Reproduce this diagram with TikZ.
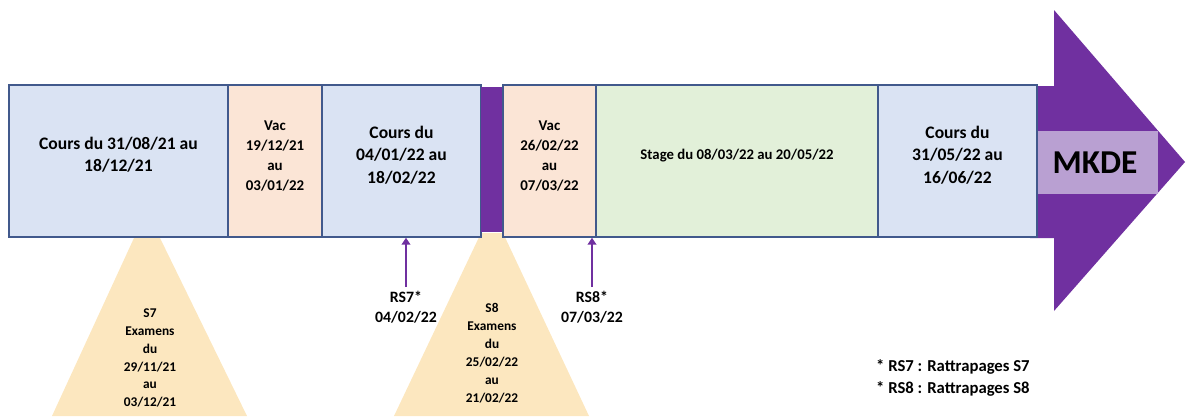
\documentclass[tikz,border=0pt]{standalone}
\usepackage{fontspec}
\setmainfont{Carlito}
\usetikzlibrary{fit,arrows.meta}
\definecolor{bordure}{HTML}{41598C}
\definecolor{bleucours}{HTML}{DAE3F3}
\definecolor{orangevac}{HTML}{FBE5D6}
\definecolor{vertstage}{HTML}{E2F0D9}
\definecolor{violetmk}{HTML}{7030A0}
\definecolor{lavande}{HTML}{B9A0D2}
\definecolor{jauneexam}{HTML}{FCE7BF}

\begin{document}
\begin{tikzpicture}[x=0.02cm,y=-0.02cm,
    boite/.style={draw=bordure,line width=0.8pt,inner sep=0pt,align=center},
    cours/.style={boite,fill=bleucours,font=\bfseries\fontsize{10}{12.8}\selectfont},
    vac/.style={boite,fill=orangevac,font=\bfseries\fontsize{8.5}{11.4}\selectfont},
    stage/.style={boite,fill=vertstage,font=\bfseries\fontsize{8.4}{11}\selectfont},
    examen/.style={fill=jauneexam},
    txtexam/.style={align=center,font=\bfseries\fontsize{7.6}{10.2}\selectfont},
    rattrap/.style={align=center,inner sep=2pt,font=\bfseries\fontsize{9}{11.4}\selectfont},
    fleche/.style={violetmk,line width=1.4pt,-{Triangle[length=4pt,width=5pt]}}]

    \useasboundingbox (0,0) rectangle (1187,416);

    % examens, sous la barre
    \fill[examen] (134,238) -- (160,238) -- (247,416) -- (52,416) -- cycle;
    \fill[examen] (481,233) -- (503,233) -- (589,416) -- (394,416) -- cycle;
    \node[txtexam] (s7) at (150,358) {S7\\Examens\\du\\29/11/21\\au\\03/12/21};
    \node[txtexam] (s8) at (492,353) {S8\\Examens\\du\\25/02/22\\au\\21/02/22};

    % grande fleche
    \fill[violetmk] (1030,86) -- (1054,86) -- (1054,10) -- (1185,162)
        -- (1054,311) -- (1054,238) -- (1030,238) -- cycle;
    \node[fill=lavande,inner sep=0pt,fit={(1037,131) (1158,194)}] (bande) {};
    \node[font=\bfseries\fontsize{19}{22}\selectfont] (mkde) at (1095,163) {MKDE};

    % periodes de l'annee
    \node[cours,fit={(9,85) (228,237)}] (c1) {Cours du 31/08/21 au\\18/12/21};
    \node[vac,fit={(228,85) (322,237)}] (v1) {Vac\\19/12/21\\au\\03/01/22};
    \node[cours,fit={(322,85) (481,237)}] (c2) {Cours du\\04/01/22 au\\18/02/22};
    \node[fill=violetmk,inner sep=0pt,fit={(481,87) (503,232)}] (sep) {};
    \node[vac,fit={(503,85) (596,237)}] (v2) {Vac\\26/02/22\\au\\07/03/22};
    \node[stage,fit={(596,85) (878,237)}] (st) {Stage du 08/03/22 au 20/05/22};
    \node[cours,fit={(878,85) (1037,237)}] (c3) {Cours du\\31/05/22 au\\16/06/22};

    % rattrapages
    \foreach \n/\x/\t in {rs7/406/{RS7*\\04/02/22},rs8/592/{RS8*\\07/03/22}}
        {\node[rattrap] (\n) at (\x,307) {\t};
         \draw[fleche] (\n.north) -- (\n.north |- c2.south);}

    \node[anchor=west,align=left,font=\bfseries\fontsize{9.5}{12.5}\selectfont] (legende)
        at (870,378) {* RS7 : Rattrapages S7\\* RS8 : Rattrapages S8};
\end{tikzpicture}
\end{document}
